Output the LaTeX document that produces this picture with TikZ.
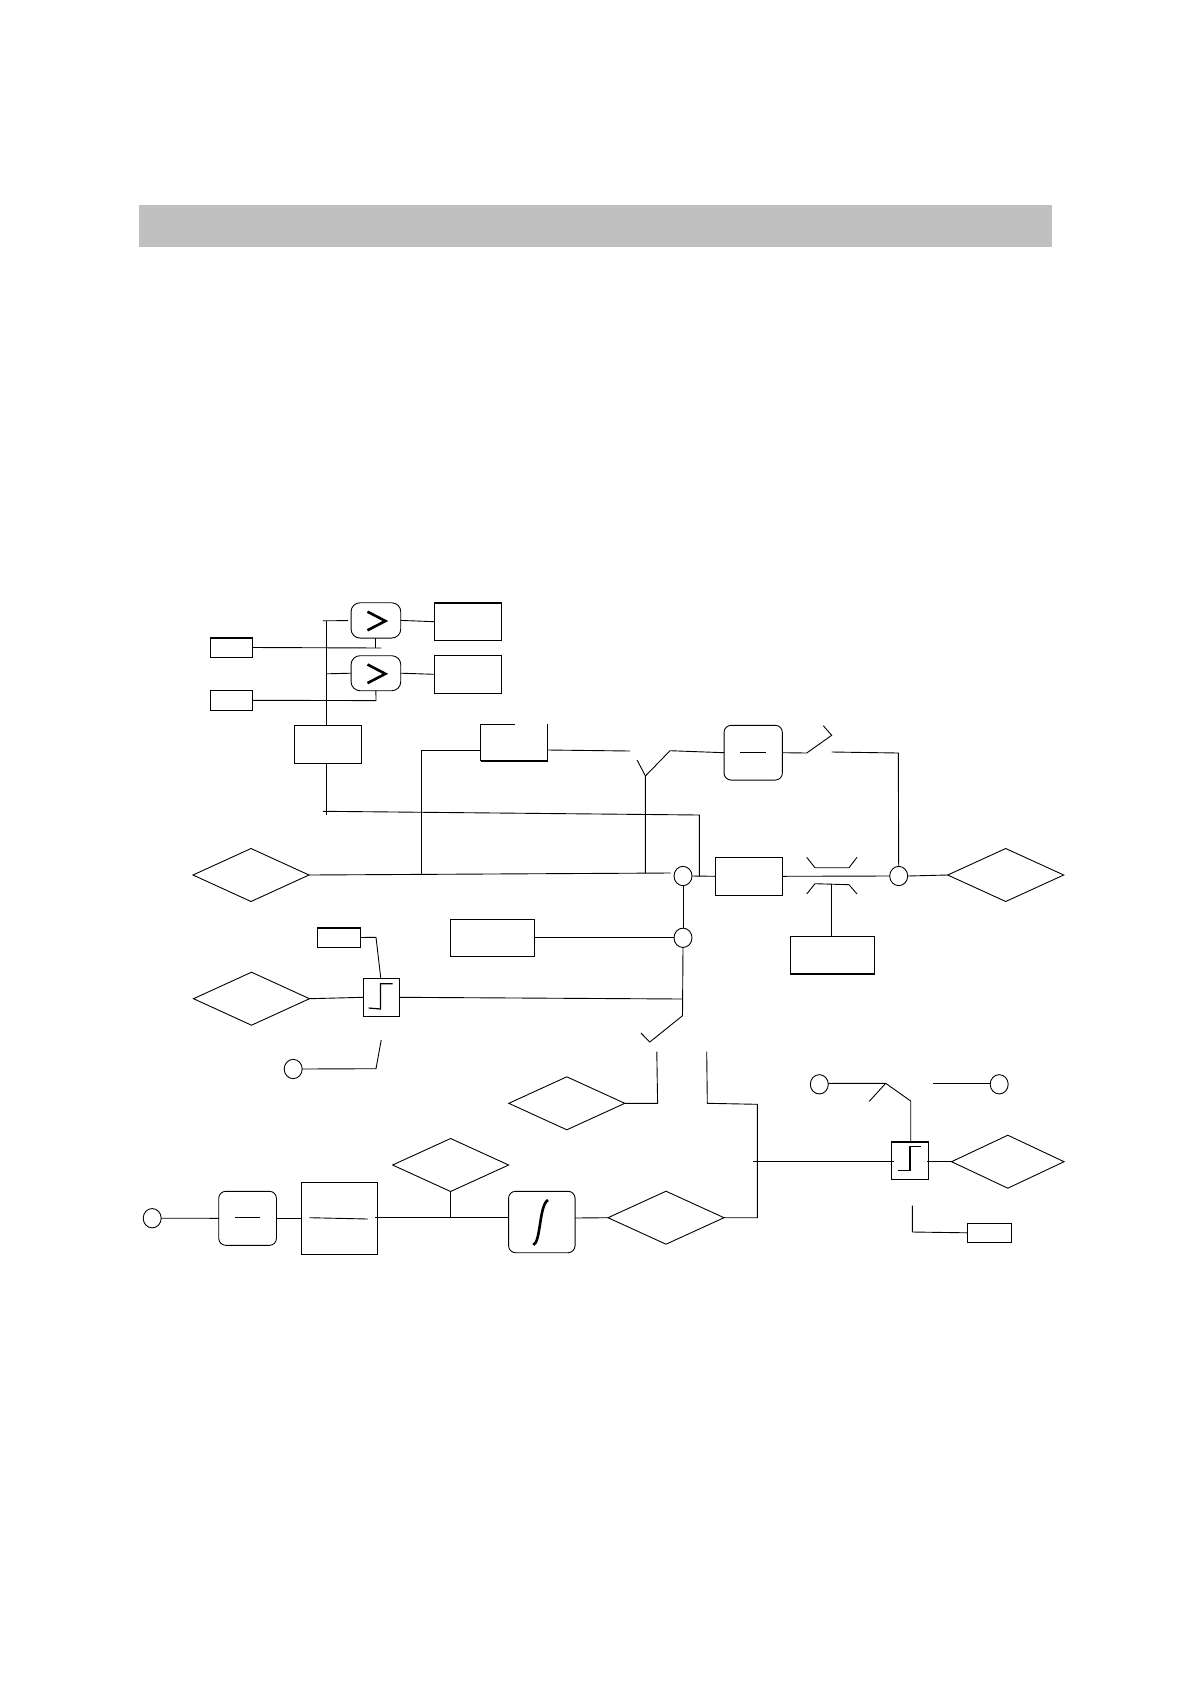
\documentclass[tikz,border=0pt]{standalone}
\usepackage{tikz}
\usetikzlibrary{positioning, calc, shapes.geometric}
\definecolor{bandgrey}{HTML}{C0C0C0}

\begin{document}
\begin{tikzpicture}[x=1pt, y=-1pt, line width=0.9pt]
\tikzset{
    every node/.style={inner sep=0pt, outer sep=0pt},
    block/.style={draw, rectangle},
    softblock/.style={draw, rectangle, rounded corners=7pt},
    valve/.style={draw, diamond, minimum width=116pt, minimum height=53pt},
    port/.style={draw, ellipse, minimum width=18pt, minimum height=19.3pt},
    heavy/.style={line width=1.6pt}
}
\useasboundingbox (0,0) rectangle (1190,1684);

% top band
\node[fill=bandgrey, minimum width=912.5pt, minimum height=42pt] (band) at (595.25,225.7) {};

% comparators and their limits
\node[softblock, rounded corners=9pt, minimum width=49.7pt, minimum height=35.3pt] (cmpa) at (375.9,620.4) {};
\node[softblock, rounded corners=9pt, minimum width=49.7pt, minimum height=35pt] (cmpb) at (375.9,673.2) {};
\node[block, minimum width=67pt, minimum height=38pt] (outa) at (467.9,621.7) {};
\node[block, minimum width=67pt, minimum height=38pt] (outb) at (467.9,674.3) {};
\node[block, minimum width=42pt, minimum height=19.6pt] (lima) at (231.5,647.5) {};
\node[block, minimum width=42pt, minimum height=19.6pt] (limb) at (231.5,700.3) {};
\node[block, minimum width=67pt, minimum height=38pt] (meas) at (327.9,744.3) {};
\node[minimum width=67pt, minimum height=36.7pt] (pres) at (514,742.7) {};

% main line
\node[valve] (ina) at (251,875) {};
\node[port] (suma) at (683,876) {};
\node[block, minimum width=67.4pt, minimum height=38pt] (ctrl) at (749,876.3) {};
\node[port] (sumb) at (898.7,876) {};
\node[valve] (outc) at (1005.7,875) {};
\node[block, minimum width=84.4pt, minimum height=37.7pt] (clutch) at (832.5,955.2) {};
\node[softblock, minimum width=58.3pt, minimum height=54.7pt] (inva) at (753.2,752.7) {};

% second line
\node[port] (sumc) at (683,937.8) {};
\node[block, minimum width=84pt, minimum height=37pt] (gain) at (492.4,937.8) {};
\node[block, minimum width=42.9pt, minimum height=19.6pt] (limc) at (339,937.5) {};
\node[block, minimum width=35.9pt, minimum height=38pt] (stepa) at (381.3,997.3) {};
\node[valve] (inb) at (251.5,998.7) {};
\node[port] (inc) at (293.2,1069) {};
\node[valve] (ind) at (566.8,1103.3) {};

% bottom line
\node[port] (ine) at (152.2,1218.2) {};
\node[softblock, minimum width=57.7pt, minimum height=54pt] (invb) at (247.6,1218.3) {};
\node[block, minimum width=76.2pt, minimum height=72pt] (filt) at (339.4,1218.3) {};
\node[valve] (inf) at (450.6,1165) {};
\node[softblock, minimum width=66.5pt, minimum height=61.4pt] (intg) at (541.8,1222) {};
\node[valve] (outd) at (666,1217.7) {};

% right side
\node[block, minimum width=37pt, minimum height=37.6pt] (stepb) at (910.2,1160.5) {};
\node[valve, minimum width=112.5pt] (oute) at (1007.8,1161.7) {};
\node[port] (ing) at (819.3,1084.3) {};
\node[port] (inh) at (999.2,1084.3) {};
\node[block, minimum width=44pt, minimum height=19pt] (limd) at (989.3,1232.8) {};

% heavier edges
\draw[heavy] (outa.north west) -- (outa.north east);
\draw[heavy] (outb.south west) -- (outb.south east);
\draw[heavy] (lima.north west) -- (lima.north east);
\draw[heavy] (limc.north west) -- (limc.north east);
\draw[heavy] (limd.south west) -- (limd.south east);
\draw[heavy] (stepb.north west) -- (stepb.north east);
\draw[heavy] (clutch.south west) -- (clutch.south east);

% open top of pres
\draw ($(pres.north west)+(34.6,0)$) -- (pres.north west) -- (pres.south west);
\draw (pres.north east) -- (pres.south east);
\draw[heavy] (pres.south west) -- (pres.south east);

% comparator marks
\draw[line width=2.6pt] (367.5,611.7) -- (385.4,621) -- (367.5,630.3);
\draw[line width=2.6pt] (367.5,664.5) -- (385.4,673.8) -- (367.5,683.1);
\draw (740,752.3) -- (765.7,752.3);
\draw (235,1217.3) -- (260.2,1217.3);
\draw (309.4,1217.7) -- (367.9,1219);
\draw[line width=2.6pt] (533.3,1245) .. controls (541,1242) and (539,1205) .. (548,1200);
\draw[line width=1.2pt] (368.6,1008) -- (380.5,1009) -- (380.5,983.7) -- (392.7,983.7);
\draw[line width=1.2pt] (898.3,1170.3) -- (910,1170.3) -- (910,1146.3) -- (921.3,1146.3);

% free ends
\coordinate (busa) at (326.8,620.7);
\coordinate (busb) at (326.8,673.8);
\coordinate (busend) at (326.8,815);
\coordinate (fbl) at (322.9,811.3);
\coordinate (fbr) at (699.3,815);
\coordinate (tapa) at (421.8,873.5);
\coordinate (tapb) at (421.8,750);
\coordinate (ya) at (645.4,776);
\coordinate (yb) at (645.4,873.2);
\coordinate (yc) at (670,750.7);
\coordinate (yd) at (637.1,760);
\coordinate (mainend) at (670.7,873);

% comparator connectors
\draw (322.9,620.8) -- (348.2,620.6);
\draw (busa) -- (busa |- meas.north);
\draw (busb) -- (cmpb.west);
\draw (cmpa.east) -- (outa.west);
\draw (cmpb.east) -- (outb.west);
\draw (lima.east) -- (381.4,648);
\draw (cmpa.south) -- (cmpa.south |- 0,648);
\draw (limb.east) -- (376,700.6) -- (cmpb.south);

% main connectors
\draw (meas.south -| busa) -- (busend);
\draw (fbl) -- (fbr) -- (fbr |- suma.east);
\draw (ina.east) -- (mainend);
\draw (tapa) -- (tapb) -- (tapb -| pres.west);
\draw (pres.east |- tapb) -- (630,751);
\draw (yb) -- (ya) -- (yd);
\draw (ya) -- (yc) -- (inva.west);
\draw (inva.east) -- (806.7,753) -- (831.7,735.3) -- (823.3,725.7);
\draw (831.7,752) -- (898.3,753) -- (sumb.north);
\draw (suma.east) -- (ctrl.west);
\draw (ctrl.east) -- (sumb.west);
\draw (sumb.east) -- (outc.west);
\draw (806.7,857.3) -- (815,867.7) -- (849,867.7) -- (857,857.3);
\draw (806.7,894) -- (815,883.7) -- (849,884.7) -- (857,894);
\draw (831.7,883.7) -- (831.7,936.3);

% second connectors
\draw (suma.south) -- (sumc.north);
\draw (gain.east) -- (sumc.west);
\draw (sumc.south) -- (682.5,1015.7) -- (649.8,1042) -- (640.9,1033);
\draw (limc.east) -- (376,937.3) -- (380.8,978.3);
\draw (inb.east) -- (stepa.west);
\draw (stepa.east) -- (682.4,999);
\draw (381.2,1040) -- (376,1068.7) -- (inc.east);
\draw (ind.east) -- (657.6,1103.3) -- (656.8,1051.7);
\draw (706.7,1051.7) -- (707.3,1103.3) -- (757.3,1104.3) -- (757.3,1217.7) -- (outd.east);

% bottom connectors
\draw (ine.east) -- (invb.west);
\draw (invb.east) -- (filt.west);
\draw (374.9,1217.3) -- (intg.west |- 0,1217.3);
\draw (inf.south) -- (inf.south |- 0,1217.3);
\draw (intg.east |- 0,1218) -- (outd.west);

% right connectors
\draw (752.7,1161.7) -- (894,1161.7);
\draw (927,1161.7) -- (oute.west);
\draw (ing.east |- 0,1083.3) -- (885.7,1083.3) -- (910.7,1101) -- (910.7,1141.7);
\draw (885.7,1083.3) -- (869.3,1101.3);
\draw (933.3,1083.3) -- (inh.west |- 0,1083.3);
\draw (912.3,1205.7) -- (912.3,1232) -- (limd.west);
\end{tikzpicture}
\end{document}
